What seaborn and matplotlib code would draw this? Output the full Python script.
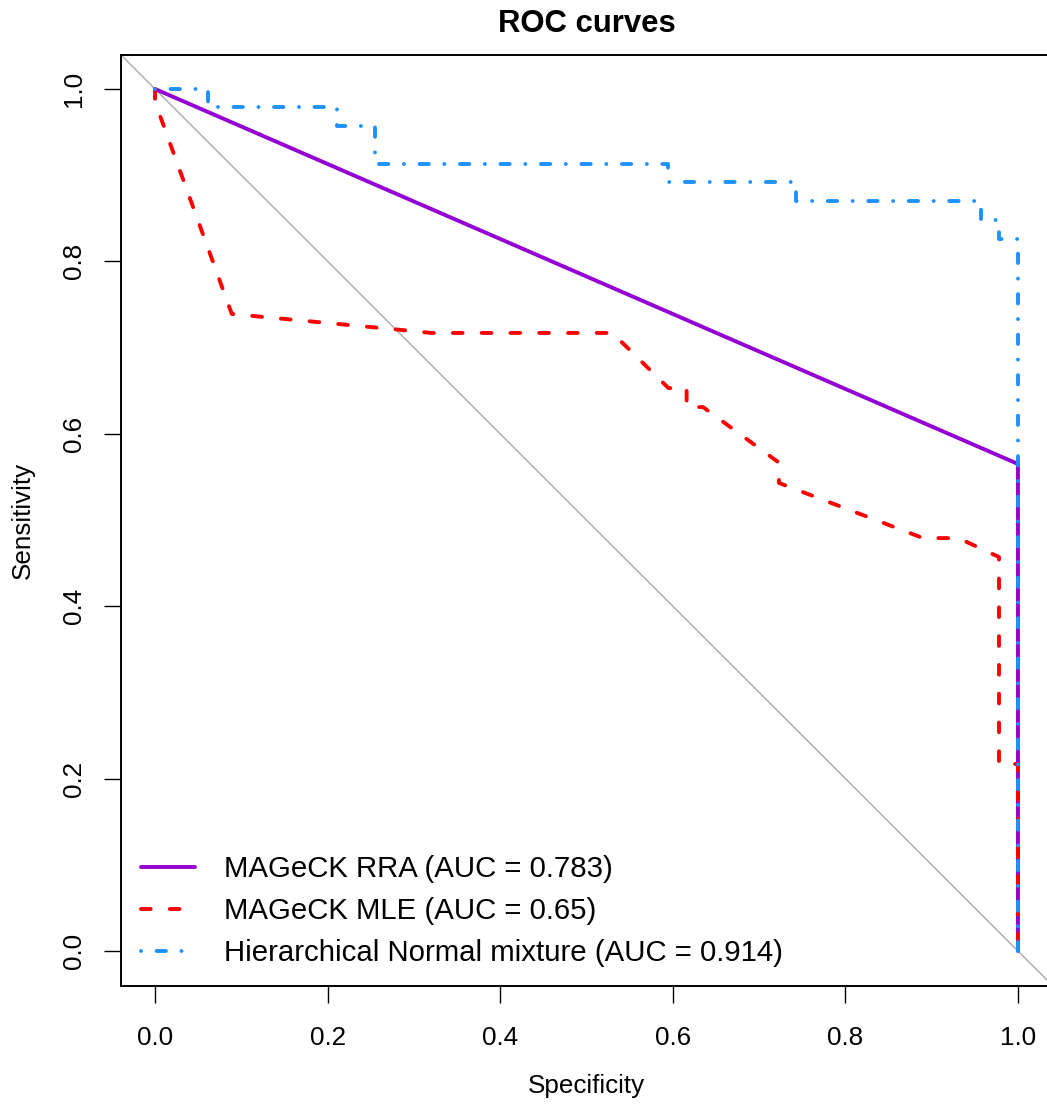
import matplotlib
matplotlib.use("Agg")
import matplotlib.pyplot as plt
import seaborn as sns
import pandas as pd

# ---------------- data ----------------
title = "ROC curves"
x_label = "Specificity"
y_label = "Sensitivity"
tick_values = [0.0, 0.2, 0.4, 0.6, 0.8, 1.0]
tick_labels = ["0.0", "0.2", "0.4", "0.6", "0.8", "1.0"]

series_names = [
    "MAGeCK RRA (AUC = 0.783)",
    "MAGeCK MLE (AUC = 0.65)",
    "Hierarchical Normal mixture (AUC = 0.914)",
]

rra_spec = [0.0, 1.0, 1.0]
rra_sens = [1.0, 0.565, 0.0]

mle_spec = [0.0, 0.0, 0.089, 0.28, 0.32, 0.530, 0.595, 0.616, 0.616, 0.635,
            0.721, 0.723, 0.723, 0.890, 0.931, 0.978, 0.978, 1.0, 1.0]
mle_sens = [1.0, 0.985, 0.739, 0.721, 0.717, 0.717, 0.653, 0.653, 0.631, 0.631,
            0.568, 0.566, 0.543, 0.479, 0.479, 0.457, 0.217, 0.217, 0.0]

hnm_spec = [0.0, 0.061, 0.061, 0.211, 0.211, 0.255, 0.255, 0.594, 0.594,
            0.743, 0.743, 0.957, 0.957, 0.978, 0.978, 1.0, 1.0]
hnm_sens = [1.0, 1.0, 0.979, 0.979, 0.957, 0.957, 0.913, 0.913, 0.892,
            0.892, 0.870, 0.870, 0.848, 0.848, 0.826, 0.826, 0.0]

colors = ["#9400D3", "#FF0000", "#1E90FF"]

# ---------------- style ----------------
sns.set_style("white")
plt.rcParams["font.family"] = ["Liberation Sans", "DejaVu Sans"]
plt.rcParams["text.color"] = "black"
plt.rcParams["axes.labelcolor"] = "black"

W, H = 1047, 1106
fig = plt.figure(figsize=(W / 100, H / 100), dpi=100)
ax = fig.add_axes([120.5 / W, 120.5 / H, 932 / W, 931 / H])
ax.set_xlim(-0.04, 1.04)
ax.set_ylim(-0.04, 1.04)

# diagonal reference line
ax.axline((0, 1), (1, 0), color="#A9A9A9", lw=1.0, zorder=1)

lw = 2.8
df_rra = pd.DataFrame({"spec": rra_spec, "sens": rra_sens})
df_mle = pd.DataFrame({"spec": mle_spec, "sens": mle_sens})
df_hnm = pd.DataFrame({"spec": hnm_spec, "sens": hnm_sens})

sns.lineplot(data=df_rra, x="spec", y="sens", sort=False, estimator=None,
             color=colors[0], linewidth=lw, solid_capstyle="round",
             solid_joinstyle="round", label=series_names[0], ax=ax, zorder=3)
sns.lineplot(data=df_mle, x="spec", y="sens", sort=False, estimator=None,
             color=colors[1], linewidth=lw, linestyle=(0, (2.5, 4.9)),
             dash_capstyle="round", dash_joinstyle="round",
             label=series_names[1], ax=ax, zorder=4)
sns.lineplot(data=df_hnm, x="spec", y="sens", sort=False, estimator=None,
             color=colors[2], linewidth=lw, linestyle=(0, (0.01, 4.0, 2.4, 4.0)),
             dash_capstyle="round", dash_joinstyle="round",
             label=series_names[2], ax=ax, zorder=5)

# axes / ticks
for side, sp in ax.spines.items():
    sp.set_visible(True)
    sp.set_color("black")
    sp.set_linewidth(1.4)

ax.set_xticks(tick_values, tick_labels)
ax.set_yticks(tick_values, tick_labels, rotation=90, va="center")
ax.tick_params(axis="both", which="major", bottom=True, left=True,
               direction="out", length=12, width=1.0, color="black",
               labelsize=18.7, labelcolor="black")
ax.tick_params(axis="x", pad=17.3)
ax.tick_params(axis="y", pad=13)

ax.set_xlabel(x_label, fontsize=18.7, color="black")
ax.set_ylabel(y_label, fontsize=18.7, color="black")
ax.xaxis.label.set_va("center")
ax.yaxis.label.set_va("center")
ax.xaxis.set_label_coords(0.5, (H - 1086 - 120.5) / 931)
ax.yaxis.set_label_coords((23.3 - 120.5) / 932, 0.5)

fig.text(586.5 / W, (H - 31.7) / H, title, ha="center", va="baseline",
         fontsize=22.4, fontweight="bold", color="black")

handles, labels = ax.get_legend_handles_labels()
leg = ax.legend(handles, labels, loc="lower left", frameon=False,
                bbox_to_anchor=(141 / W, 139 / H), bbox_transform=fig.transFigure,
                borderpad=0, borderaxespad=0, fontsize=21.2,
                handlelength=1.85, handletextpad=0.96, labelspacing=0.47)
for t in leg.get_texts():
    t.set_color("black")

fig.savefig("out.png", dpi=100)
